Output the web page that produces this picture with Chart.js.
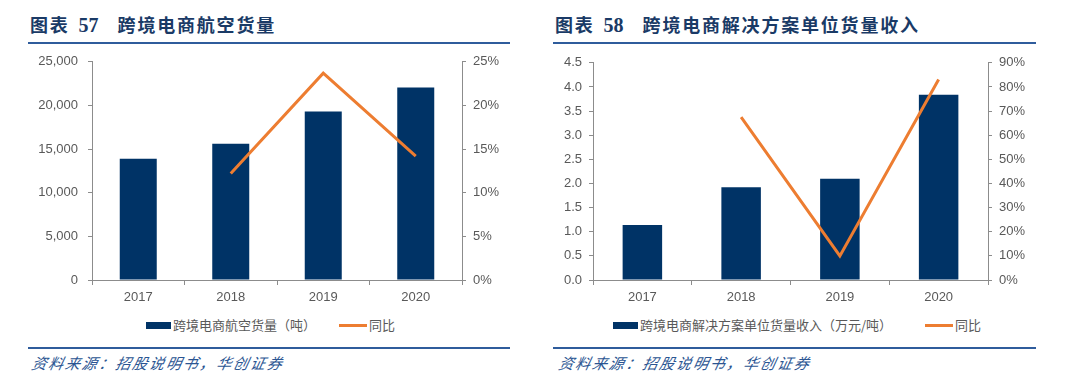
<!DOCTYPE html>
<html><head><meta charset="utf-8">
<script src="https://cdn.jsdelivr.net/npm/chart.js@4"></script>
<style>
html,body{margin:0;padding:0;background:#fff;width:1080px;height:381px;overflow:hidden;position:relative;font-family:"Liberation Sans",Arial,sans-serif;}
.title{position:absolute;top:12px;font-family:"Noto Sans CJK SC",sans-serif;font-weight:700;font-size:18px;color:#1a3a66;white-space:nowrap;letter-spacing:1.8px;line-height:24px;}
.title .num{font-family:"Liberation Serif",serif;font-size:20px;font-weight:700;letter-spacing:0;margin:0 19px 0 9px;}
.rule{position:absolute;height:2px;background:#2f5c9c;}
.src{position:absolute;top:352px;font-family:"Noto Sans CJK SC",sans-serif;font-style:italic;font-size:15px;color:#2b5592;letter-spacing:1.8px;white-space:nowrap;transform:skewX(-12deg);line-height:22px;}
.cv{position:absolute;}
.cv canvas{display:block;}
.leg{position:absolute;top:316px;font-family:"Noto Sans CJK SC",sans-serif;font-size:13px;color:#595959;white-space:nowrap;line-height:18px;}
.sw{position:absolute;}
</style></head><body>
<div class="title" style="left:30px;">图表<span class="num">57</span>跨境电商航空货量</div>
<div class="rule" style="left:28px;width:482px;top:42px;"></div>
<div class="title" style="left:555px;">图表<span class="num">58</span>跨境电商解决方案单位货量收入</div>
<div class="rule" style="left:553px;width:483px;top:42px;"></div>

<div class="cv" style="left:0;top:44px;width:540px;height:266px;"><canvas id="c1" width="540" height="266"></canvas></div>
<div class="cv" style="left:540px;top:48px;width:540px;height:262px;"><canvas id="c2" width="540" height="262"></canvas></div>

<div class="sw" style="left:146px;top:322px;width:25px;height:7px;background:#003366;"></div>
<div class="leg" style="left:173px;">跨境电商航空货量（吨）</div>
<div class="sw" style="left:339px;top:324px;width:28px;height:3px;background:#ED7D31;"></div>
<div class="leg" style="left:369px;">同比</div>

<div class="sw" style="left:613px;top:322px;width:25px;height:7px;background:#003366;"></div>
<div class="leg" style="left:640px;">跨境电商解决方案单位货量收入（万元/吨）</div>
<div class="sw" style="left:925px;top:324px;width:28px;height:3px;background:#ED7D31;"></div>
<div class="leg" style="left:955px;">同比</div>

<div class="rule" style="left:28px;width:482px;top:347px;"></div>
<div class="rule" style="left:553px;width:483px;top:347px;"></div>
<div class="src" style="left:32px;">资料来源：招股说明书，华创证券</div>
<div class="src" style="left:559px;">资料来源：招股说明书，华创证券</div>

<script>
const categories = ['2017','2018','2019','2020'];
// Chart 57
const airVolume = [13900, 15600, 19300, 22050];
const airVolumeYoY = [null, 12.2, 23.7, 14.2];
// Chart 58
const unitRevenue = [1.14, 1.92, 2.10, 3.84];
const unitRevenueYoY = [null, 67.5, 10.0, 83.1];

const AX = '#8c8c8c', TXT = '#595959';
const font = {family: '"Liberation Sans", Arial, sans-serif', size: 13};

function makeChart(id, bars, line, opt) {
  new Chart(document.getElementById(id), {
    type: 'bar',
    data: {
      labels: categories,
      datasets: [
        {type: 'line', data: line, yAxisID: 'y2', borderColor: '#ED7D31', borderWidth: 3,
         pointRadius: 0, tension: 0, spanGaps: false, order: 0},
        {type: 'bar', data: bars, yAxisID: 'y', backgroundColor: '#003366',
         categoryPercentage: 1, barPercentage: 0.4, order: 1}
      ]
    },
    options: {
      responsive: false, animation: false, devicePixelRatio: 1,
      layout: {padding: 0},
      plugins: {legend: {display: false}, tooltip: {enabled: false}},
      scales: {
        x: {
          grid: {display: true, drawOnChartArea: false, drawTicks: true, tickLength: 5, color: AX, offset: true},
          border: {display: true, color: AX, width: 1},
          ticks: {color: TXT, font, padding: 5, maxRotation: 0},
          afterFit: s => { s.height = 30; }
        },
        y: {
          position: 'left', min: 0, max: opt.yMax,
          grid: {drawOnChartArea: false, drawTicks: true, tickLength: 4, color: AX},
          border: {display: true, color: AX, width: 1},
          ticks: {stepSize: opt.yStep, color: TXT, font, padding: opt.lPad,
                  callback: opt.yFmt},
          afterFit: s => { s.width = opt.lW; }
        },
        y2: {
          position: 'right', min: 0, max: opt.y2Max,
          grid: {drawOnChartArea: false, drawTicks: true, tickLength: 4, color: AX},
          border: {display: true, color: AX, width: 1},
          ticks: {stepSize: opt.y2Step, color: TXT, font, padding: 7,
                  callback: v => v + '%'},
          afterFit: s => { s.width = opt.rW; }
        }
      }
    }
  });
}

makeChart('c1', airVolume, airVolumeYoY, {
  yMax: 25000, yStep: 5000, y2Max: 25, y2Step: 5, lW: 92, rW: 78, lPad: 10,
  yFmt: v => v.toLocaleString('en-US')
});
makeChart('c2', unitRevenue, unitRevenueYoY, {
  yMax: 4.5, yStep: 0.5, y2Max: 90, y2Step: 10, lW: 53, rW: 92, lPad: 7,
  yFmt: v => v.toFixed(1)
});
</script>
</body></html>
